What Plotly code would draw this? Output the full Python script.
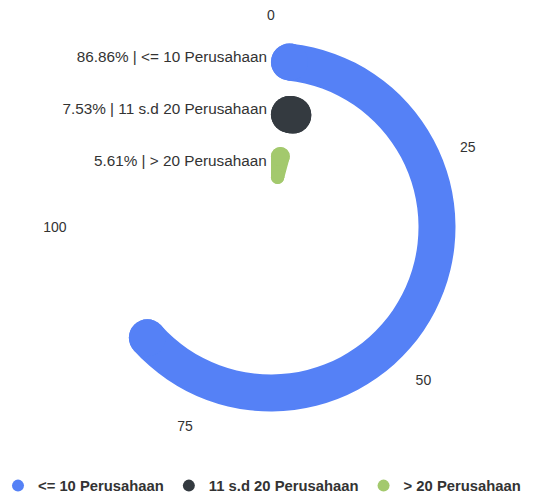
import math
import plotly.graph_objects as go

# ---- data ----
categories = ["<= 10 Perusahaan", "11 s.d 20 Perusahaan", "> 20 Perusahaan"]
percentages = [86.86, 7.53, 5.61]
colors = ["#5581F6", "#343A40", "#A3C96D"]
angle_tick_values = [0, 25, 50, 75, 100]

# ---- scale / layout constants ----
MAX_VALUE = 100
SPAN_DEG = 270          # 0..100 spans 270 degrees clockwise from top
R_AXIS = 204            # radial axis range (1 unit ~ 1 px)
BAND0 = 36              # inner start of category bands
BAND = 52               # band size per category
BAR_W = 37              # bar thickness
W, H = 534, 494
PAGE_OFF = 8            # default page margin of the html body
CX, CY = 271 - PAGE_OFF, 227 - PAGE_OFF   # polar center in figure px
FONT = "Liberation Sans, Arial, sans-serif"


def to_deg(v):
    return v * SPAN_DEG / MAX_VALUE


def sector(r0, r1, a0, a1, col):
    return go.Barpolar(
        r=[r1 - r0], base=[r0], theta=[(a0 + a1) / 2], width=[a1 - a0],
        marker=dict(color=col, line=dict(width=0)),
        showlegend=False, hoverinfo="skip")


fig = go.Figure()
n = len(categories)
for i, (cat, val, col) in enumerate(zip(categories, percentages, colors)):
    k = n - 1 - i
    base = BAND0 + BAND * k + (BAND - BAR_W) / 2
    top = base + BAR_W
    mid = base + BAR_W / 2
    ext = to_deg(val)
    half = math.radians(ext) / 2
    # rounded corner radii, clamped so the ends fit inside the arc
    lim_in = base * half / (1 - half) if half < 0.9 else float("inf")
    lim_out = top * half / (1 + half)
    rc_in = min(BAR_W / 2, lim_in)
    rc_out = min(BAR_W / 2, lim_out)
    ang_in = math.degrees(rc_in / (base + rc_in))
    ang_out = math.degrees(rc_out / (top - rc_out))
    if top - rc_out > base + rc_in + 0.5:
        fig.add_trace(sector(base + rc_in, top - rc_out, 0, ext, col))
        if ext - 2 * ang_in > 0.05:
            fig.add_trace(sector(base, base + rc_in + 1, ang_in, ext - ang_in, col))
        if ext - 2 * ang_out > 0.05:
            fig.add_trace(sector(top - rc_out - 1, top, ang_out, ext - ang_out, col))
    else:
        a = max(ang_in, ang_out)
        if ext - 2 * a > 0.05:
            fig.add_trace(sector(base, top, a, ext - a, col))
    fig.add_trace(go.Scatterpolar(
        r=[base + rc_in, base + rc_in], theta=[ang_in, ext - ang_in],
        mode="markers", marker=dict(size=2 * rc_in, color=col, line=dict(width=0)),
        showlegend=False, cliponaxis=False, hoverinfo="skip"))
    fig.add_trace(go.Scatterpolar(
        r=[top - rc_out, top - rc_out], theta=[ang_out, ext - ang_out],
        mode="markers", marker=dict(size=2 * rc_out, color=col, line=dict(width=0)),
        showlegend=False, cliponaxis=False, hoverinfo="skip"))
    # series label to the left of the start of the ring
    fig.add_trace(go.Scatterpolar(
        r=[mid + 3], theta=[-math.degrees(4 / mid)], mode="text",
        text=[f"{val:.2f}% | {cat}"], textposition="middle left",
        textfont=dict(family=FONT, size=15.3, color="#333333"),
        showlegend=False, cliponaxis=False, hoverinfo="skip"))

for cat, col in zip(categories, colors):
    fig.add_trace(go.Scatterpolar(
        r=[None], theta=[None], mode="markers", name=cat,
        marker=dict(size=12, color=col, symbol="circle"),
        showlegend=True))

tickvals = [to_deg(v) for v in angle_tick_values]
fig.update_layout(
    width=W, height=H,
    margin=dict(l=0, r=0, t=0, b=0, autoexpand=False),
    paper_bgcolor="white",
    font=dict(family=FONT, color="#333333"),
    polar=dict(
        domain=dict(x=[(CX - R_AXIS) / W, (CX + R_AXIS) / W],
                    y=[(H - CY - R_AXIS) / H, (H - CY + R_AXIS) / H]),
        bgcolor="white",
        barmode="overlay",
        radialaxis=dict(range=[0, R_AXIS], visible=False),
        angularaxis=dict(
            rotation=90, direction="clockwise",
            tickmode="array", tickvals=tickvals,
            ticktext=[str(v) for v in angle_tick_values],
            showgrid=False, showline=False, ticks="",
            tickfont=dict(family=FONT, size=14, color="#333333")),
    ),
    legend=dict(
        orientation="h", x=(262 - PAGE_OFF) / W, xanchor="center",
        y=(H - (486 - PAGE_OFF)) / H, yanchor="middle",
        font=dict(family=FONT, size=14.8, color="#333333", weight="bold"),
        itemclick=False, bgcolor="rgba(0,0,0,0)"),
    showlegend=True,
)

fig.write_html("out.html")
